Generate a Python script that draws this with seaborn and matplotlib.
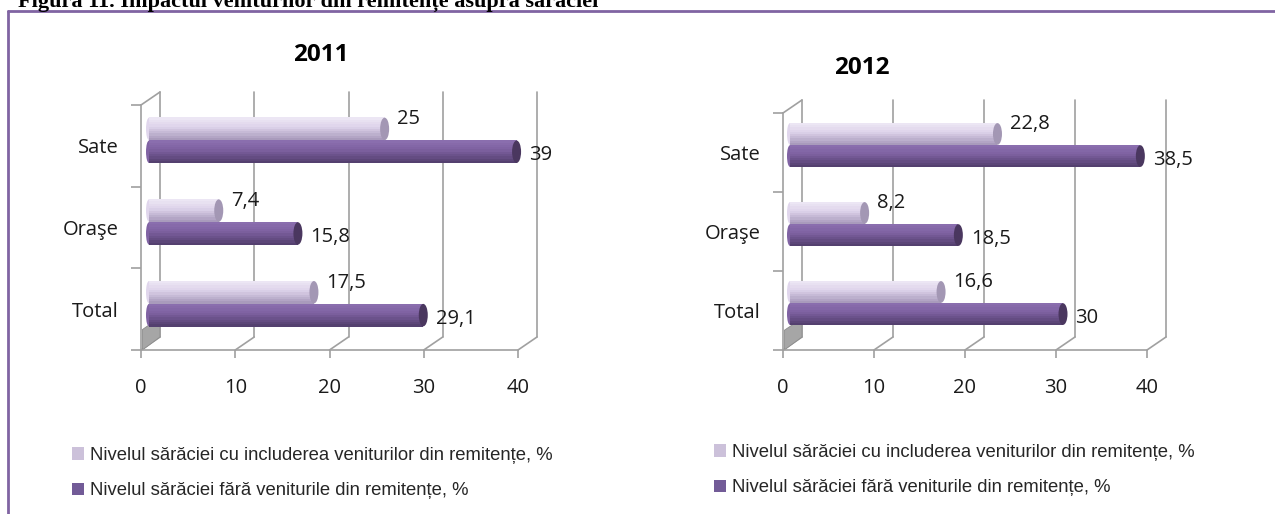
import numpy as np
import pandas as pd
import matplotlib
matplotlib.use("Agg")
import matplotlib.pyplot as plt
import seaborn as sns
from matplotlib.patches import Rectangle, Ellipse, Patch, Polygon
from matplotlib.lines import Line2D
from matplotlib.colors import to_rgb

# data
zones = ["Sate", "Oraşe", "Total"]
series = ["Nivelul sărăciei cu includerea veniturilor din remitențe, %",
          "Nivelul sărăciei fără veniturile din remitențe, %"]
with_remit_2011 = [25, 7.4, 17.5]
without_remit_2011 = [39, 15.8, 29.1]
with_remit_2012 = [22.8, 8.2, 16.6]
without_remit_2012 = [38.5, 18.5, 30]
x_ticks = [0, 10, 20, 30, 40]
caption = "Figura 11. Impactul veniturilor din remitențe asupra sărăciei"

W, H = 1275, 514
DPI = 100
PURPLE = "#8064A2"
GRID = "#A0A0A0"
LIGHT = "#DCD2EA"
DARK = "#7B5E9E"

sns.set_style("white")
plt.rcParams["font.family"] = ["Open Sans", "DejaVu Sans"]


def make_df(with_vals, without_vals):
    rows = []
    for z, v in zip(zones, with_vals):
        rows.append({"zona": z, "serie": series[0], "valoare": v})
    for z, v in zip(zones, without_vals):
        rows.append({"zona": z, "serie": series[1], "valoare": v})
    return pd.DataFrame(rows)


def band_colors(base, light_top, dark_bottom, n):
    base = np.array(to_rgb(base))
    top = np.array(to_rgb(light_top))
    bot = np.array(to_rgb(dark_bottom))
    out = []
    for i in range(n):
        t = i / (n - 1)
        if t < 0.4:
            c = top + (base - top) * (t / 0.4)
        else:
            c = base + (bot - base) * ((t - 0.4) / 0.6)
        out.append(c)
    return out


def draw_panel(fig, box, df, title, title_xy, bar_shift, legend_xy):
    left, right, top, bottom = box
    ax = fig.add_axes([left / W, 1 - bottom / H, (right - left) / W, (bottom - top) / H])
    sns.barplot(data=df, y="zona", x="valoare", hue="serie", orient="h",
                order=zones, hue_order=series, palette=[LIGHT, DARK],
                width=0.56, legend=False, ax=ax, zorder=3)
    ax.set_xlim(0, 40)
    ax.set_ylim(2.5, -0.5)

    sx = (right - left) / 40.0
    sy = (bottom - top) / 3.0
    ddx, ddy = 19 / sx, -13 / sy

    # 3D-like frame: back wall grid, floor diagonals, left wall
    for t in x_ticks:
        ax.plot([t + ddx, t + ddx], [2.5 + ddy, -0.5 + ddy], color=GRID, lw=1.2,
                clip_on=False, zorder=1)
        ax.plot([t, t + ddx], [2.5, 2.5 + ddy], color=GRID, lw=1.2, clip_on=False, zorder=1)
    ax.plot([0, ddx], [-0.5, -0.5 + ddy], color=GRID, lw=1.2, clip_on=False, zorder=1)
    ax.add_patch(Polygon([(0.15, 2.5), (ddx, 2.5 + ddy), (ddx, 2.1), (0.15, 2.25)],
                         closed=True, facecolor="#A6A6A6", edgecolor="#8C8C8C",
                         lw=0.6, clip_on=False, zorder=1))

    bdx, bdy = bar_shift[0] / sx, -bar_shift[1] / sy
    light_bands = band_colors("#DDD3EA", "#ECE6F4", "#A99BBC", 10)
    dark_bands = band_colors("#7E61A1", "#8A6EAE", "#54406F", 10)
    cap_colors = ["#A397B4", "#4A375F"]
    label_dy = [7, -2.5]
    for ci, cont in enumerate(ax.containers):
        bands = light_bands if ci == 0 else dark_bands
        for p, v in zip(cont.patches, cont.datavalues):
            p.set_x(p.get_x() + bdx)
            p.set_y(p.get_y() + bdy)
            p.set_facecolor("none")
            p.set_edgecolor("none")
            x0, y0, w, h = p.get_x(), p.get_y(), p.get_width(), p.get_height()
            n = len(bands)
            for k, c in enumerate(bands):
                ax.add_patch(Rectangle((x0, y0 + k * h / n), w, h / n + 0.002,
                                       facecolor=c, edgecolor="none", zorder=3,
                                       clip_on=False))
            ax.add_patch(Ellipse((x0 + w, y0 + h / 2), 9 / sx, h * 0.98,
                                 facecolor=cap_colors[ci], edgecolor="none",
                                 zorder=4, clip_on=False))
            ax.add_patch(Ellipse((x0, y0 + h / 2), 6 / sx, h * 0.98,
                                 facecolor=bands[3], edgecolor="none",
                                 zorder=2, clip_on=False))
            txt = f"{v:g}".replace(".", ",")
            ax.annotate(txt, (x0 + w, y0 + h / 2), xytext=(9, label_dy[ci]),
                        textcoords="offset points", va="center", ha="left",
                        fontsize=14.5, color="#1A1A1A", zorder=5)

    # axes styling
    for s in ["top", "right"]:
        ax.spines[s].set_visible(False)
    for s in ["left", "bottom"]:
        ax.spines[s].set_color(GRID)
        ax.spines[s].set_linewidth(1.2)
    ax.set_xticks(x_ticks)
    ax.set_xticklabels([str(t) for t in x_ticks], fontsize=14.5, color="#1A1A1A")
    ax.tick_params(axis="x", length=6, width=1.2, color=GRID, pad=14, bottom=True)
    ax.set_yticks(range(len(zones)))
    ax.set_yticklabels(zones, fontsize=14.5, color="#1A1A1A")
    ax.tick_params(axis="y", length=0, pad=16, left=True)
    ax.set_yticks([-0.5, 0.5, 1.5, 2.5], minor=True)
    ax.tick_params(axis="y", which="minor", length=7, width=1.2, color=GRID, left=True)
    ax.set_xlabel("")
    ax.set_ylabel("")
    ax.grid(False)
    ax.set_facecolor("none")

    fig.text(title_xy[0] / W, 1 - title_xy[1] / H, title, ha="center", va="center",
             fontsize=17.5, fontweight="bold", color="black")

    handles = [Patch(facecolor="#CCC1DA", edgecolor="none"),
               Patch(facecolor="#725B97", edgecolor="none")]
    fig.legend(handles, series, loc="upper left",
               bbox_to_anchor=(legend_xy[0] / W, 1 - legend_xy[1] / H),
               frameon=False, prop={"family": "Liberation Sans", "size": 13.3},
               handlelength=0.65, handleheight=0.65, handletextpad=0.35,
               labelspacing=1.0, borderaxespad=0, borderpad=0)
    return ax


fig = plt.figure(figsize=(W / DPI, H / DPI), dpi=DPI)
fig.patch.set_facecolor("white")

draw_panel(fig, (141, 518, 105, 350), make_df(with_remit_2011, without_remit_2011),
           "2011", (321, 55), (8, 5.5), (72, 447))
draw_panel(fig, (783, 1147, 113, 350), make_df(with_remit_2012, without_remit_2012),
           "2012", (862, 68), (7, 7.5), (714, 444))

# page frame and caption
fig.add_artist(Line2D([8 / W, 8 / W], [0, 1 - 11 / H], color=PURPLE, lw=2,
                      transform=fig.transFigure))
fig.add_artist(Line2D([8 / W, 1], [1 - 11 / H, 1 - 11 / H], color=PURPLE, lw=2,
                      transform=fig.transFigure))
fig.text(18 / W, 1 - 7 / H, caption, ha="left", va="baseline", fontsize=16,
         fontweight="bold", family="Liberation Serif", color="black")

fig.savefig("out.png", dpi=DPI)
